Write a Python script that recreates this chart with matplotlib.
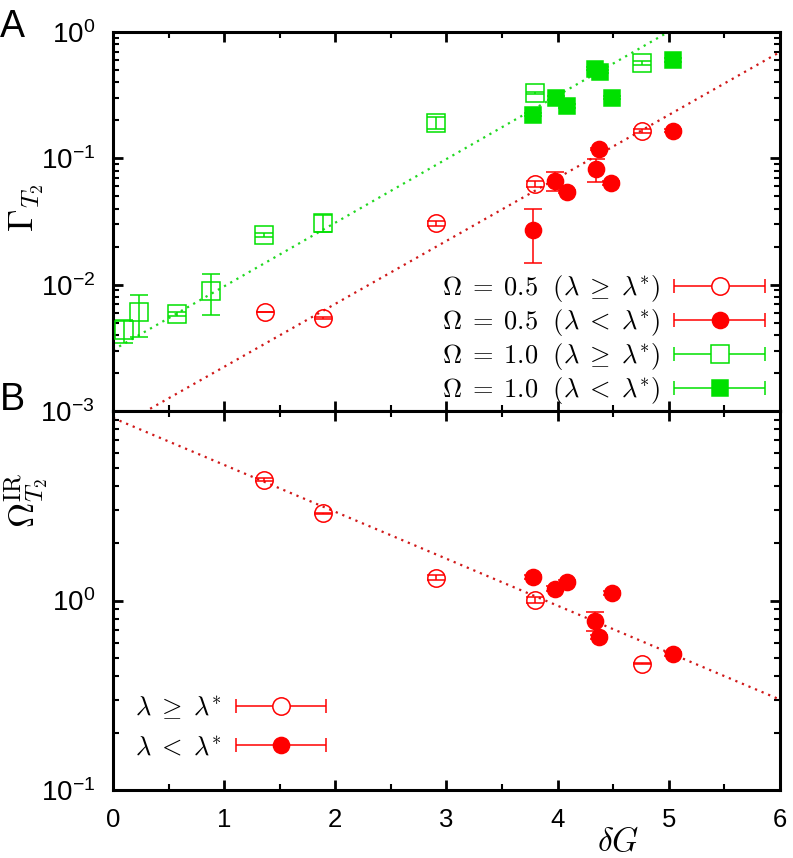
import numpy as np
import matplotlib
matplotlib.use('Agg')
import matplotlib.pyplot as plt
from matplotlib.font_manager import FontProperties
from matplotlib.container import ErrorbarContainer
from matplotlib.legend_handler import HandlerErrorbar
from matplotlib.ticker import FixedLocator, LogLocator, NullFormatter, MultipleLocator

plt.rcParams['font.family'] = ['Liberation Sans', 'DejaVu Sans']
plt.rcParams['mathtext.fontset'] = 'cm'

# ---------------- data: panel A ----------------
# Omega = 0.5, lambda >= lambda*
a_red_open_x = [1.37, 1.89, 2.91, 3.80, 4.755]
a_red_open_y = [6.08e-3, 5.40e-3, 3.08e-2, 6.27e-2, 0.166]
a_red_open_lo = [0.0, 0.0001, 0.0014, 0.003, 0.006]
a_red_open_hi = [0.0, 0.0001, 0.0014, 0.003, 0.006]

# Omega = 0.5, lambda < lambda*
a_red_fill_x = [3.78, 3.98, 4.08, 4.345, 4.375, 4.48, 5.04]
a_red_fill_y = [0.0273, 0.0656, 0.0542, 0.0817, 0.1186, 0.0638, 0.166]
a_red_fill_lo = [0.0124, 0.0106, 0.0015, 0.0167, 0.003, 0.002, 0.005]
a_red_fill_hi = [0.0124, 0.0124, 0.0015, 0.0172, 0.003, 0.002, 0.005]

# Omega = 1.0, lambda >= lambda*
a_grn_open_x = [0.10, 0.235, 0.58, 0.88, 1.36, 1.893, 2.91, 3.80, 4.755]
a_grn_open_y = [4.38e-3, 6.08e-3, 5.86e-3, 8.9e-3, 2.47e-2, 3.08e-2, 0.192, 0.33, 0.569]
a_grn_open_lo = [0.9e-3, 2.2e-3, 0.2e-3, 3.15e-3, 0.9e-3, 4.5e-3, 0.022, 0.008, 0.025]
a_grn_open_hi = [0.9e-3, 2.2e-3, 0.2e-3, 3.3e-3, 0.9e-3, 4.5e-3, 0.022, 0.008, 0.025]

# Omega = 1.0, lambda < lambda*
a_grn_fill_x = [3.78, 3.985, 4.08, 4.335, 4.385, 4.485, 5.04]
a_grn_fill_y = [0.222, 0.30, 0.26, 0.512, 0.485, 0.303, 0.601]
a_grn_fill_lo = [0.007, 0.009, 0.008, 0.015, 0.015, 0.009, 0.018]
a_grn_fill_hi = [0.007, 0.009, 0.008, 0.015, 0.015, 0.009, 0.018]

# fit lines (end points)
fit_x = [0.0, 6.0]
fit_a_green = [3.04e-3, 3.21]
fit_a_red = [7.1e-4, 0.695]
fit_b_red = [9.19, 0.30]

# ---------------- data: panel B ----------------
b_open_x = [1.36, 1.893, 2.91, 3.80, 4.755]
b_open_y = [4.35, 2.88, 1.32, 1.007, 0.465]
b_open_lo = [0.08, 0.02, 0.04, 0.04, 0.005]
b_open_hi = [0.08, 0.02, 0.04, 0.04, 0.005]

b_fill_x = [3.78, 3.98, 4.08, 4.34, 4.375, 4.485, 5.04]
b_fill_y = [1.33, 1.157, 1.253, 0.780, 0.642, 1.096, 0.522]
b_fill_lo = [0.03, 0.03, 0.03, 0.090, 0.015, 0.03, 0.012]
b_fill_hi = [0.03, 0.03, 0.03, 0.089, 0.015, 0.03, 0.012]

legend_a_labels = [r'$\Omega\;=\;0.5\ \ (\lambda\;\geq\;\lambda^{*})$',
                   r'$\Omega\;=\;0.5\ \ (\lambda\;<\;\lambda^{*})$',
                   r'$\Omega\;=\;1.0\ \ (\lambda\;\geq\;\lambda^{*})$',
                   r'$\Omega\;=\;1.0\ \ (\lambda\;<\;\lambda^{*})$']
legend_b_labels = [r'$\lambda\;\geq\;\lambda^{*}$', r'$\lambda\;<\;\lambda^{*}$']

xticks = [0, 1, 2, 3, 4, 5, 6]
a_yticks = [1e-3, 1e-2, 1e-1, 1e0]
a_yticklabels = [r'$\mathregular{10^{-3}}$', r'$\mathregular{10^{-2}}$',
                 r'$\mathregular{10^{-1}}$', r'$\mathregular{10^{0}}$']
b_yticks = [1e-1, 1e0, 1e1]
b_yticklabels = [r'$\mathregular{10^{-1}}$', r'$\mathregular{10^{0}}$', '']

RED = '#ff0000'
GREEN = '#00e000'
RED_LINE = '#d01818'
GREEN_LINE = '#20d820'

MS_OPEN = 12.5
MS_FILL = 11.6
MEW = 1.1
CAP = 6.2


def series(ax, x, y, lo, hi, marker, color, filled):
    ax.errorbar(x, y, yerr=[lo, hi], fmt=marker,
                ms=MS_FILL if filled else MS_OPEN,
                mfc=color if filled else 'none', mec=color,
                mew=MEW, ecolor=color, elinewidth=1.1,
                capsize=CAP, capthick=1.1, zorder=3)


def proxy(ax, marker, color, filled, label):
    return ax.errorbar([np.nan], [np.nan], xerr=[1.0], fmt=marker,
                       ms=MS_FILL if filled else MS_OPEN,
                       mfc=color if filled else 'white', mec=color,
                       mew=MEW, ecolor=color, elinewidth=1.1,
                       capsize=5, capthick=1.1, label=label)


fig = plt.figure(figsize=(7.93, 8.58), dpi=100)
axA = fig.add_axes([0.1425, 0.52098, 0.8411, 0.44172])
axB = fig.add_axes([0.1425, 0.07925, 0.8411, 0.44172])

dots = (0, (1.0, 2.2))

# panel A
axA.plot(fit_x, fit_a_green, linestyle=dots, color=GREEN_LINE, lw=1.6, zorder=2)
axA.plot(fit_x, fit_a_red, linestyle=dots, color=RED_LINE, lw=1.6, zorder=2)
series(axA, a_red_open_x, a_red_open_y, a_red_open_lo, a_red_open_hi, 'o', RED, False)
series(axA, a_red_fill_x, a_red_fill_y, a_red_fill_lo, a_red_fill_hi, 'o', RED, True)
series(axA, a_grn_open_x, a_grn_open_y, a_grn_open_lo, a_grn_open_hi, 's', GREEN, False)
series(axA, a_grn_fill_x, a_grn_fill_y, a_grn_fill_lo, a_grn_fill_hi, 's', GREEN, True)

# panel B
axB.plot(fit_x, fit_b_red, linestyle=dots, color=RED_LINE, lw=1.6, zorder=2)
series(axB, b_open_x, b_open_y, b_open_lo, b_open_hi, 'o', RED, False)
series(axB, b_fill_x, b_fill_y, b_fill_lo, b_fill_hi, 'o', RED, True)

for ax in (axA, axB):
    ax.set_yscale('log')
    ax.set_xlim(0, 6)
    ax.xaxis.set_major_locator(FixedLocator(xticks))
    ax.xaxis.set_minor_locator(MultipleLocator(0.5))
    ax.yaxis.set_minor_locator(LogLocator(base=10, subs=np.arange(2, 10)))
    ax.yaxis.set_minor_formatter(NullFormatter())
    ax.tick_params(which='both', direction='in', top=True, right=True)
    ax.tick_params(which='major', length=7, width=2.0)
    ax.tick_params(which='minor', length=4, width=1.5)
    ax.tick_params(axis='y', which='major', labelsize=20, pad=13)
    ax.tick_params(axis='x', which='major', labelsize=18.5, pad=13)
    for sp in ax.spines.values():
        sp.set_linewidth(2.2)

axA.set_ylim(1e-3, 1e0)
axA.set_yticks(a_yticks, a_yticklabels)
axA.tick_params(axis='x', labelbottom=False)
axB.set_ylim(1e-1, 1e1)
axB.set_yticks(b_yticks, b_yticklabels)
axB.set_xticks(xticks, [str(t) for t in xticks])

axA.set_ylabel(r'$\Gamma_{T_2}$', fontsize=26, math_fontfamily='cm')
axA.yaxis.set_label_coords(-0.100, 0.538)
axB.set_ylabel(r'$\Omega^{\mathrm{IR}}_{T_2}$', fontsize=25, math_fontfamily='cm')
axB.yaxis.set_label_coords(-0.095, 0.765)
axB.set_xlabel(r'$\delta G$', fontsize=24, math_fontfamily='cm')
axB.xaxis.set_label_coords(0.757, -0.098)

# legends
hA = [proxy(axA, 'o', RED, False, legend_a_labels[0]),
      proxy(axA, 'o', RED, True, legend_a_labels[1]),
      proxy(axA, 's', GREEN, False, legend_a_labels[2]),
      proxy(axA, 's', GREEN, True, legend_a_labels[3])]
leg_prop = FontProperties(size=19, math_fontfamily='cm')
axA.legend(handles=hA, loc='lower right', bbox_to_anchor=(0.978, 0.012),
           frameon=False, markerfirst=False, prop=leg_prop, handlelength=3.45,
           handletextpad=0.52, labelspacing=0.12, borderpad=0, borderaxespad=0,
           numpoints=1, handler_map={ErrorbarContainer: HandlerErrorbar(xerr_size=1.72)})

hB = [proxy(axB, 'o', RED, False, legend_b_labels[0]),
      proxy(axB, 'o', RED, True, legend_b_labels[1])]
axB.legend(handles=hB, loc='lower left', bbox_to_anchor=(0.033, 0.08),
           frameon=False, markerfirst=False, prop=leg_prop, handlelength=3.45,
           handletextpad=0.52, labelspacing=0.55, borderpad=0, borderaxespad=0,
           numpoints=1, handler_map={ErrorbarContainer: HandlerErrorbar(xerr_size=1.72)})

fig.text(0.0, 0.9569, 'A', fontsize=27, ha='left', va='baseline')
fig.text(0.0, 0.5221, 'B', fontsize=27, ha='left', va='baseline')

fig.savefig('out.png', dpi=100)
